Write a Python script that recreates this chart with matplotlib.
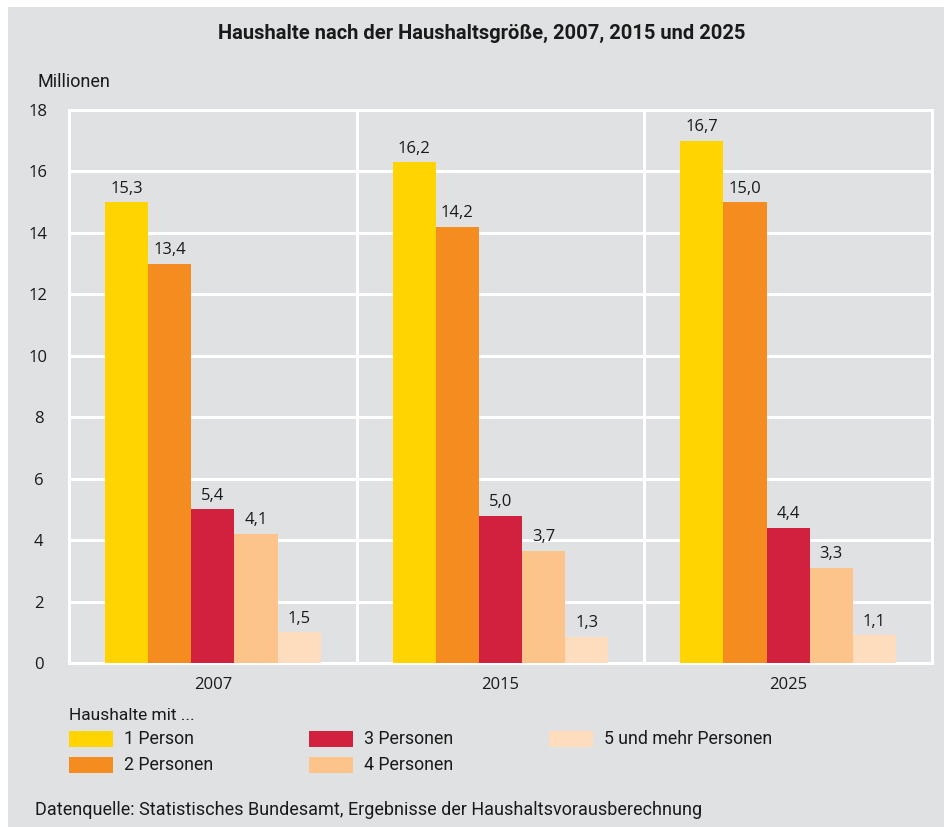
import matplotlib
matplotlib.use("Agg")
import matplotlib.pyplot as plt
from matplotlib.patches import Rectangle
from matplotlib import font_manager as fm
import numpy as np

years = ["2007", "2015", "2025"]
series_names = ["1 Person", "2 Personen", "3 Personen", "4 Personen", "5 und mehr Personen"]
# bar heights as drawn in the picture (million)
bar_1p = [15.0, 16.3, 17.0]
bar_2p = [13.0, 14.2, 15.0]
bar_3p = [5.0, 4.8, 4.4]
bar_4p = [4.2, 3.65, 3.1]
bar_5p = [1.0, 0.85, 0.9]
# printed value labels
lab_1p = ["15,3", "16,2", "16,7"]
lab_2p = ["13,4", "14,2", "15,0"]
lab_3p = ["5,4", "5,0", "4,4"]
lab_4p = ["4,1", "3,7", "3,3"]
lab_5p = ["1,5", "1,3", "1,1"]
yticks = [0, 2, 4, 6, 8, 10, 12, 14, 16, 18]

colors = ["#FFD400", "#F58C1F", "#D2213F", "#FCC48A", "#FDDDBE"]
BG = "#E0E1E3"

names = {f.name for f in fm.fontManager.ttflist}
narrow = "Liberation Sans Narrow" if "Liberation Sans Narrow" in names else "Roboto"
numfont = "Open Sans" if "Open Sans" in names else "DejaVu Sans"

W, H = 945, 827
fig = plt.figure(figsize=(W / 100, H / 100), dpi=100)
fig.patch.set_facecolor("white")
fig.add_artist(Rectangle((8 / W, 0), 1, 1 - 7 / H, transform=fig.transFigure,
                         facecolor=BG, edgecolor="none", zorder=-10))

ax = fig.add_axes([69 / W, 1 - 663 / H, (932 - 69) / W, (663 - 110) / H])
ax.set_facecolor(BG)

heights = [bar_1p, bar_2p, bar_3p, bar_4p, bar_5p]
labels = [lab_1p, lab_2p, lab_3p, lab_4p, lab_5p]
x = np.arange(len(years))
bw = 0.15
for i, (h, lab) in enumerate(zip(heights, labels)):
    pos = x + (i - 2) * bw
    bars = ax.bar(pos, h, width=bw, color=colors[i], zorder=3, linewidth=0)
    ax.bar_label(bars, labels=lab, padding=4, fontsize=12, family=numfont, color="#1a1a1a")

ax.set_xlim(-0.5, 2.5)
ax.set_ylim(0, 18)
ax.set_yticks(yticks)
ax.set_yticklabels([str(t) for t in yticks], family=numfont, fontsize=12, color="#1a1a1a", ha="center")
ax.set_xticks(x)
ax.set_xticklabels(years, family=numfont, fontsize=12, color="#1a1a1a")
ax.tick_params(axis="y", length=0, pad=22)
ax.tick_params(axis="x", length=0, pad=10)
ax.grid(axis="y", color="white", linewidth=2.2, zorder=1)
for sep in [0.5, 1.5]:
    ax.axvline(sep, color="white", linewidth=2.2, zorder=1)
for s in ax.spines.values():
    s.set_color("white")
    s.set_linewidth(2.2)

fig.text(482 / W, 1 - 33 / H, "Haushalte nach der Haushaltsgröße, 2007, 2015 und 2025",
         ha="center", va="center", fontsize=14.5, fontweight="bold", family=narrow, color="#1a1a1a")
fig.text(38 / W, 1 - 82 / H, "Millionen", ha="left", va="center", fontsize=13,
         family=narrow, color="#1a1a1a")

# legend
fig.text(69 / W, 1 - 715 / H, "Haushalte mit ...", ha="left", va="center", fontsize=12.5,
         family=narrow, color="#1a1a1a")
leg_pos = [(69, 739), (69, 765), (309, 739), (309, 765), (549, 739)]
for (px, py), c, n in zip(leg_pos, colors, series_names):
    fig.add_artist(Rectangle((px / W, 1 - (py + 8) / H), 44 / W, 16 / H,
                             transform=fig.transFigure, facecolor=c, edgecolor="none"))
    fig.text((px + 55) / W, 1 - py / H, n, ha="left", va="center", fontsize=12.8,
             family=narrow, color="#1a1a1a")

fig.text(35 / W, 1 - 810 / H, "Datenquelle: Statistisches Bundesamt, Ergebnisse der Haushaltsvorausberechnung",
         ha="left", va="center", fontsize=13, family=narrow, color="#1a1a1a")

fig.savefig("out.png", dpi=100, facecolor="white")
